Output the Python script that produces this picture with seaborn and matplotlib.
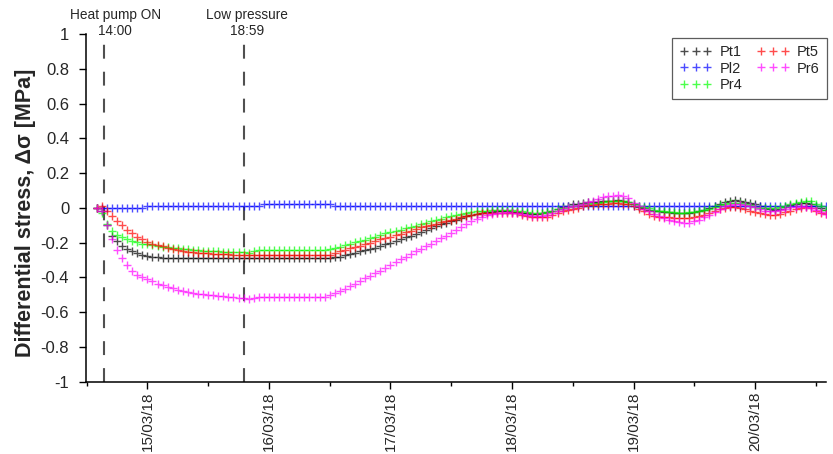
import numpy as np
import pandas as pd
import matplotlib
matplotlib.use("Agg")
import matplotlib.pyplot as plt
import matplotlib.dates as mdates
from matplotlib.lines import Line2D
import seaborn as sns

# ---------------- data (hourly readings, from 14/03/18 14:00) ----------------
start_time = "2018-03-14 14:00"
n_points = 145

series_names = ["Pt1", "Pl2", "Pr4", "Pt5", "Pr6"]
series_colors = ["#000000", "#0000ff", "#00ff00", "#ff0000", "#ff00ff"]

pt1 = [0.0, -0.02, -0.10, -0.16, -0.19, -0.22, -0.235, -0.25, -0.26, -0.27,
       -0.276, -0.28, -0.283, -0.286, -0.288, -0.289, -0.29, -0.29, -0.29, -0.29,
       -0.29, -0.29, -0.29, -0.29, -0.29, -0.29, -0.29, -0.29, -0.29, -0.29,
       -0.29, -0.288, -0.288, -0.288, -0.288, -0.288, -0.288, -0.288, -0.288, -0.288,
       -0.288, -0.288, -0.288, -0.288, -0.288, -0.288, -0.287, -0.285, -0.28, -0.272,
       -0.265, -0.258, -0.25, -0.243, -0.235, -0.228, -0.22, -0.21, -0.20, -0.19,
       -0.18, -0.17, -0.16, -0.15, -0.138, -0.127, -0.115, -0.105, -0.095, -0.087,
       -0.078, -0.068, -0.058, -0.048, -0.04, -0.033, -0.028, -0.025, -0.022, -0.02,
       -0.02, -0.02, -0.022, -0.025, -0.028, -0.032, -0.035, -0.035, -0.032, -0.025,
       -0.015, -0.005, 0.005, 0.012, 0.02, 0.025, 0.03, 0.032, 0.033, 0.035,
       0.037, 0.04, 0.042, 0.043, 0.042, 0.035, 0.02, 0.008, -0.002, -0.01,
       -0.015, -0.02, -0.022, -0.025, -0.027, -0.028, -0.028, -0.027, -0.024, -0.02,
       -0.012, -0.002, 0.01, 0.02, 0.032, 0.04, 0.045, 0.042, 0.035, 0.028,
       0.02, 0.01, 0.0, -0.008, -0.01, -0.005, 0.005, 0.018, 0.025, 0.028,
       0.028, 0.02, 0.01, 0.0, -0.01]

pl2 = [0.0, -0.003, -0.003, -0.003, -0.003, -0.003, -0.003, -0.003, -0.003, -0.003,
       0.01, 0.01, 0.01, 0.01, 0.01, 0.01, 0.01, 0.01, 0.01, 0.01,
       0.01, 0.01, 0.01, 0.01, 0.01, 0.01, 0.01, 0.01, 0.01, 0.01,
       0.01, 0.01, 0.01, 0.025, 0.025, 0.025, 0.025, 0.025, 0.025, 0.025,
       0.025, 0.025, 0.025, 0.025, 0.025, 0.025, 0.025, 0.012, 0.012, 0.012,
       0.012, 0.012, 0.012, 0.012, 0.012, 0.012, 0.012, 0.012, 0.012, 0.012,
       0.012, 0.012, 0.012, 0.012, 0.012, 0.012, 0.012, 0.012, 0.012, 0.012,
       0.012, 0.012, 0.012, 0.012, 0.012, 0.012, 0.012, 0.012, 0.012, 0.012,
       0.012, 0.012, 0.012, 0.012, 0.012, 0.012, 0.012, 0.012, 0.012, 0.012,
       0.012, 0.012, 0.012, 0.012, 0.012, 0.012, 0.012, 0.012, 0.012, 0.012,
       0.012, 0.012, 0.012, 0.012, 0.012, 0.012, 0.012, 0.012, 0.012, 0.012,
       0.012, 0.012, 0.012, 0.012, 0.012, 0.012, 0.012, 0.012, 0.012, 0.012,
       0.012, 0.012, 0.012, 0.012, 0.012, 0.012, 0.012, 0.012, 0.012, 0.012,
       0.012, 0.012, 0.012, 0.012, 0.012, 0.012, 0.012, 0.012, 0.012, 0.012,
       0.012, 0.012, 0.012, 0.012, 0.012]

pr4 = [0.0, -0.03, -0.095, -0.13, -0.155, -0.168, -0.178, -0.188, -0.197, -0.205,
       -0.21, -0.214, -0.218, -0.222, -0.226, -0.229, -0.232, -0.235, -0.238, -0.241,
       -0.243, -0.245, -0.247, -0.249, -0.25, -0.251, -0.252, -0.253, -0.254, -0.256,
       -0.257, -0.245, -0.243, -0.243, -0.243, -0.243, -0.243, -0.243, -0.243, -0.243,
       -0.243, -0.243, -0.243, -0.243, -0.242, -0.24, -0.238, -0.232, -0.225, -0.215,
       -0.205, -0.197, -0.19, -0.182, -0.175, -0.167, -0.155, -0.147, -0.14, -0.132,
       -0.125, -0.118, -0.11, -0.103, -0.095, -0.087, -0.078, -0.07, -0.062, -0.055,
       -0.048, -0.04, -0.033, -0.027, -0.022, -0.018, -0.016, -0.015, -0.014, -0.013,
       -0.013, -0.013, -0.014, -0.017, -0.02, -0.024, -0.027, -0.028, -0.027, -0.022,
       -0.015, -0.008, 0.0, 0.005, 0.01, 0.015, 0.02, 0.024, 0.028, 0.031,
       0.034, 0.037, 0.039, 0.04, 0.038, 0.032, 0.02, 0.01, 0.003, -0.003,
       -0.01, -0.015, -0.02, -0.023, -0.025, -0.027, -0.027, -0.026, -0.022, -0.017,
       -0.012, -0.005, 0.005, 0.015, 0.025, 0.03, 0.03, 0.027, 0.022, 0.015,
       0.008, 0.002, -0.003, -0.002, 0.0, 0.004, 0.01, 0.02, 0.03, 0.036,
       0.04, 0.038, 0.025, 0.01, -0.013]

pt5 = [0.0, 0.01, -0.02, -0.045, -0.075, -0.10, -0.125, -0.145, -0.165, -0.18,
       -0.195, -0.205, -0.213, -0.22, -0.228, -0.235, -0.242, -0.247, -0.251, -0.254,
       -0.257, -0.259, -0.261, -0.263, -0.265, -0.266, -0.267, -0.268, -0.27, -0.271,
       -0.272, -0.272, -0.272, -0.272, -0.272, -0.272, -0.272, -0.272, -0.272, -0.272,
       -0.272, -0.272, -0.272, -0.272, -0.271, -0.27, -0.268, -0.26, -0.25, -0.24,
       -0.232, -0.225, -0.217, -0.21, -0.20, -0.19, -0.18, -0.172, -0.165, -0.157,
       -0.148, -0.14, -0.13, -0.12, -0.112, -0.105, -0.097, -0.09, -0.083, -0.077,
       -0.07, -0.063, -0.055, -0.048, -0.041, -0.036, -0.032, -0.03, -0.028, -0.027,
       -0.027, -0.027, -0.028, -0.032, -0.038, -0.045, -0.05, -0.055, -0.055, -0.05,
       -0.04, -0.03, -0.02, -0.012, -0.005, 0.002, 0.01, 0.015, 0.019, 0.021,
       0.023, 0.025, 0.026, 0.026, 0.025, 0.02, 0.01, -0.005, -0.02, -0.033,
       -0.045, -0.05, -0.053, -0.055, -0.056, -0.057, -0.057, -0.056, -0.052, -0.047,
       -0.04, -0.03, -0.018, -0.008, 0.0, 0.003, 0.004, 0.0, -0.008, -0.016,
       -0.025, -0.032, -0.037, -0.04, -0.04, -0.035, -0.025, -0.015, -0.008, 0.0,
       0.004, 0.0, -0.015, -0.027, -0.035]

pr6 = [0.0, -0.02, -0.10, -0.18, -0.24, -0.29, -0.33, -0.36, -0.385, -0.40,
       -0.41, -0.422, -0.435, -0.445, -0.453, -0.46, -0.47, -0.477, -0.483, -0.488,
       -0.493, -0.497, -0.50, -0.503, -0.506, -0.508, -0.51, -0.513, -0.516, -0.52,
       -0.525, -0.52, -0.515, -0.515, -0.515, -0.515, -0.515, -0.515, -0.515, -0.515,
       -0.515, -0.515, -0.515, -0.515, -0.513, -0.51, -0.50, -0.49, -0.478, -0.465,
       -0.45, -0.435, -0.42, -0.405, -0.39, -0.375, -0.36, -0.343, -0.327, -0.31,
       -0.295, -0.28, -0.265, -0.25, -0.235, -0.22, -0.205, -0.19, -0.175, -0.16,
       -0.145, -0.128, -0.11, -0.093, -0.077, -0.062, -0.05, -0.042, -0.035, -0.03,
       -0.027, -0.026, -0.027, -0.03, -0.035, -0.04, -0.045, -0.048, -0.046, -0.04,
       -0.03, -0.018, -0.006, 0.004, 0.012, 0.018, 0.025, 0.032, 0.042, 0.052,
       0.06, 0.066, 0.07, 0.072, 0.07, 0.058, 0.03, 0.01, -0.005, -0.02,
       -0.035, -0.048, -0.058, -0.067, -0.075, -0.082, -0.086, -0.085, -0.078, -0.068,
       -0.055, -0.04, -0.022, -0.005, 0.01, 0.018, 0.021, 0.02, 0.015, 0.01,
       0.003, -0.005, -0.015, -0.018, -0.015, -0.01, -0.004, 0.003, 0.008, 0.01,
       0.005, -0.002, -0.01, -0.022, -0.036]

event_labels = ["Heat pump ON\n14:00", "Low pressure\n18:59"]
event_times = ["2018-03-14 15:20", "2018-03-15 19:03"]
event_label_times = ["2018-03-14 17:40", "2018-03-15 19:40"]

y_ticks = [1, 0.8, 0.6, 0.4, 0.2, 0, -0.2, -0.4, -0.6, -0.8, -1]
y_tick_labels = ["1", "0.8", "0.6", "0.4", "0.2", "0", "-0.2", "-0.4", "-0.6", "-0.8", "-1"]
x_limits = ["2018-03-14 11:50", "2018-03-20 14:05"]
y_label = "Differential stress, Δσ [MPa]"

# ---------------- build table ----------------
times = pd.date_range(start_time, periods=n_points, freq="h")
values = {"Pt1": pt1, "Pl2": pl2, "Pr4": pr4, "Pt5": pt5, "Pr6": pr6}
df = pd.concat(
    [pd.DataFrame({"time": times, "value": values[n], "series": n}) for n in series_names],
    ignore_index=True,
)
palette = dict(zip(series_names, series_colors))

# ---------------- style ----------------
sns.set_style("ticks")
plt.rcParams["font.family"] = ["Liberation Sans", "DejaVu Sans"]
plt.rcParams["lines.scale_dashes"] = False

fig = plt.figure(figsize=(8.33, 4.54), dpi=100)
ax = fig.add_axes([0.103, 0.159, 0.889, 0.766])

sns.lineplot(data=df, x="time", y="value", hue="series", hue_order=series_names,
             palette=palette, estimator=None, marker="+", linestyle="none",
             markersize=5.5, markeredgewidth=1.0, alpha=0.7, legend=False, ax=ax)
for ln in ax.lines:
    ln.set_markeredgecolor(ln.get_color())

# event lines
for t, lt, lab in zip(event_times, event_label_times, event_labels):
    ax.axvline(pd.Timestamp(t), color="#505050", lw=1.5, linestyle=(0, (10, 9.4)), zorder=1)
    ax.text(pd.Timestamp(lt), 0.996, lab, transform=ax.get_xaxis_transform(),
            ha="center", va="baseline", fontsize=9.8, linespacing=1.2, clip_on=False)

ax.set_xlim(pd.Timestamp(x_limits[0]), pd.Timestamp(x_limits[1]))
ax.set_ylim(-1, 1)
ax.set_yticks(y_ticks)
ax.set_yticklabels(y_tick_labels)

ax.xaxis.set_major_locator(mdates.DayLocator())
ax.xaxis.set_minor_locator(mdates.HourLocator(byhour=[12]))
ax.xaxis.set_major_formatter(mdates.DateFormatter("%d/%m/%y"))
plt.setp(ax.get_xticklabels(), rotation=90)

ax.tick_params(axis="both", which="major", length=5, width=1, color="black")
ax.tick_params(axis="x", which="major", labelsize=11, pad=2)
ax.tick_params(axis="y", which="major", labelsize=12, pad=7)
ax.tick_params(axis="x", which="minor", length=3, width=1, color="black")
ax.set_xlabel("")
ax.set_ylabel(y_label, fontsize=15.5, fontweight="bold")
ax.yaxis.set_label_coords(-0.0675, 0.487)

for side in ["top", "right"]:
    ax.spines[side].set_visible(False)
for side in ["left", "bottom"]:
    ax.spines[side].set_color("black")
    ax.spines[side].set_linewidth(1.1)

handles = [Line2D([], [], color=c, marker="+", linestyle="none", markersize=6,
                  markeredgewidth=1.0, alpha=0.7) for c in series_colors]
leg = ax.legend(handles, series_names, ncol=2, numpoints=3, loc="upper right",
                bbox_to_anchor=(1.001, 0.9885), borderaxespad=0, fontsize=10.5,
                frameon=True, fancybox=False, handlelength=2.24, handletextpad=0.52,
                columnspacing=1.0, labelspacing=0.15, borderpad=0.5)
leg.get_frame().set_edgecolor("#333333")
leg.get_frame().set_linewidth(0.9)

fig.savefig("out.png", dpi=100)
